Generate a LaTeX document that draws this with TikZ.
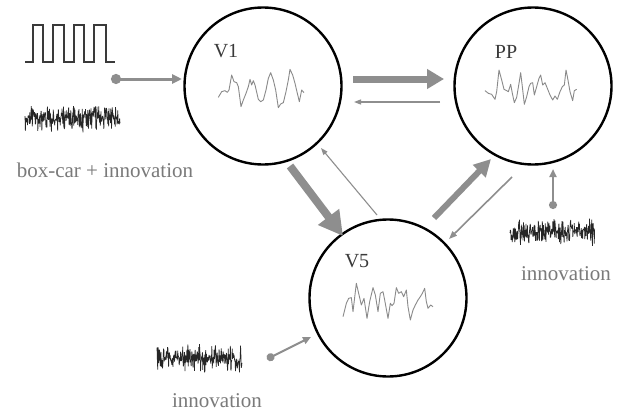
\documentclass[tikz,border=0pt]{standalone}
\usepackage{fontspec}
\setmainfont{Liberation Serif}
\usetikzlibrary{arrows.meta}
\definecolor{arr}{HTML}{8E8E8E}
\definecolor{txtgray}{HTML}{7A7A7A}
\definecolor{lab}{HTML}{3A3A3A}
\definecolor{wave}{HTML}{8A8A8A}
\tikzset{
  area/.style={circle,draw=black,line width=2.4pt,minimum size=157pt,inner sep=0pt},
  arealabel/.style={inner sep=0pt,text=lab,font=\fontsize{20}{20}\selectfont},
  caption/.style={inner sep=0pt,text=txtgray,font=\fontsize{21}{21}\selectfont},
  thickarrow/.style={draw=arr,line width=#1,-{Triangle[length=17pt,width=19pt]}},
  thinarrow/.style={draw=arr,line width=1.1pt,-{Triangle[length=7pt,width=5pt]}},
  inarrow/.style={draw=arr,line width=#1,{Circle[length=10pt]}-{Triangle[length=10pt,width=9pt]}},
  wavestyle/.style={draw=wave,line width=0.9pt,line join=round},
  noisestyle/.style={draw=black!85,line width=0.7pt,line join=bevel},
}
\begin{document}
\begin{tikzpicture}[x=1pt,y=-1pt]
\useasboundingbox[fill=white] (0,0) rectangle (620,412);

% areas
\node[area] (V1) at (263,86) {};
\node[area] (PP) at (533,86) {};
\node[area] (V5) at (388,298) {};

\node[arealabel] (lV1) at (226,51) {V1};
\node[arealabel] (lPP) at (506,52) {PP};
\node[arealabel] (lV5) at (357,261) {V5};

% waveforms inside areas
\begin{scope}[shift={(210,60)},scale=1/3]
\draw[wavestyle] (25,112)--(35,95)--(45,92)--(52,97)--(57,90)--(65,45)--(72,65)--(80,68)--(85,80)--(93,140)--(100,120)--(108,100)--(115,80)--(120,58)--(125,75)--(130,62)--(135,75)--(145,118)--(152,125)--(160,120)--(168,90)--(175,55)--(182,38)--(190,60)--(197,90)--(205,143)--(212,132)--(220,128)--(228,95)--(235,60)--(240,28)--(248,45)--(255,70)--(262,100)--(268,125)--(275,90)--(282,98);
\end{scope}
\begin{scope}[shift={(480,60)},scale=1/3]
\draw[wavestyle] (15,92)--(25,100)--(35,103)--(45,118)--(50,95)--(57,30)--(65,60)--(72,88)--(80,92)--(85,95)--(92,73)--(97,100)--(103,128)--(110,112)--(117,70)--(122,38)--(127,80)--(133,133)--(140,110)--(147,80)--(152,70)--(158,68)--(163,105)--(170,80)--(177,55)--(182,45)--(188,75)--(195,68)--(202,85)--(210,105)--(218,120)--(225,108)--(232,118)--(240,95)--(247,80)--(253,75)--(258,30)--(263,55)--(270,95)--(278,122)--(283,92)--(290,88);
\end{scope}
\begin{scope}[shift={(338,275)},scale=1/3]
\draw[wavestyle] (15,125)--(25,85)--(32,70)--(40,68)--(45,110)--(55,25)--(62,55)--(70,90)--(78,70)--(87,130)--(95,80)--(105,38)--(112,60)--(120,110)--(127,55)--(135,50)--(140,75)--(150,130)--(157,85)--(162,92)--(168,85)--(175,38)--(182,55)--(190,50)--(197,65)--(205,45)--(210,95)--(217,135)--(225,105)--(232,90)--(240,75)--(247,65)--(253,55)--(260,40)--(265,80)--(270,100)--(278,90)--(285,95);
\end{scope}

% box-car
\draw[draw=lab,line width=1.4pt] (25,62)--(33,62)--(33,25)--(43,25)--(43,62)--(53,62)--(53,25)--(64,25)--(64,62)--(74,62)--(74,25)--(84,25)--(84,62)--(94,62)--(94,25)--(106,25)--(106,62)--(115,62);

% noise traces
\pgfmathsetseed{7}
\draw[noisestyle] plot[domain=25:120,samples=260] ({\x},{118+7.5*(rand+rand)});
\pgfmathsetseed{11}
\draw[noisestyle] plot[domain=510:595,samples=235] ({\x},{232+7.5*(rand+rand)});
\pgfmathsetseed{23}
\draw[noisestyle] plot[domain=157:242,samples=235] ({\x},{358+7.5*(rand+rand)});

% captions
\node[caption] (cBox) at (105,170) {box-car + innovation};
\node[caption] (cPP) at (566,274) {innovation};
\node[caption] (cV5) at (217,401) {innovation};

% connector end points
\coordinate (inS) at (111,79);
\coordinate (inE) at (182,79);
\coordinate (a1) at (353,79);
\coordinate (a2) at (444,79);
\coordinate (b1) at (440,102);
\coordinate (b2) at (354,102);
\coordinate (c1) at (290,166);
\coordinate (c2) at (343,236);
\coordinate (d1) at (377,215);
\coordinate (d2) at (321,148);
\coordinate (e1) at (434,218);
\coordinate (e2) at (491,159);
\coordinate (f1) at (512,177);
\coordinate (f2) at (449,239);
\coordinate (gS) at (553,209);
\coordinate (gE) at (553,169);
\coordinate (hS) at (267,359);
\coordinate (hE) at (311,337);

% connectors
\draw[inarrow=3pt] (inS) -- (inE);
\draw[thickarrow=7pt] (a1) -- (a2);
\draw[thinarrow] (b1) -- (b2);
\draw[draw=arr,line width=8pt,-{Triangle[length=24pt,width=25pt]}] (c1) -- (c2);
\draw[thinarrow] (d1) -- (d2);
\draw[draw=arr,line width=6pt,-{Triangle[length=17pt,width=17pt]}] (e1) -- (e2);
\draw[draw=arr,line width=1.6pt,-{Triangle[length=8pt,width=6pt]}] (f1) -- (f2);
\draw[draw=arr,line width=2.5pt,{Circle[length=8pt]}-{Triangle[length=8pt,width=7pt]}] (gS) -- (gE);
\draw[draw=arr,line width=2pt,{Circle[length=8pt]}-{Triangle[length=8pt,width=7pt]}] (hS) -- (hE);
\end{tikzpicture}
\end{document}
